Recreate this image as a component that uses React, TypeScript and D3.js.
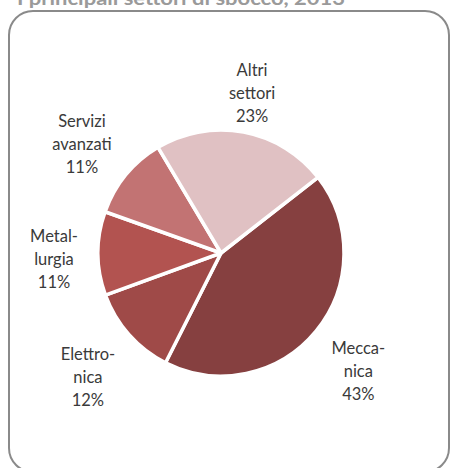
import React, { useEffect, useRef } from "react";
import * as d3 from "d3";

const title = "I principali settori di sbocco, 2013";
const categories = ["Meccanica", "Elettronica", "Metallurgia", "Servizi avanzati", "Altri settori"];
const labelLines = [["Mecca-", "nica"], ["Elettro-", "nica"], ["Metal-", "lurgia"], ["Servizi", "avanzati"], ["Altri", "settori"]];
const values = [43, 12, 11, 11, 23];
const colors = ["#864040", "#9F4A48", "#B25350", "#C27373", "#E0C1C3"];

const W = 450, H = 468;
const cx = 221, cy = 253, R = 123;
const startDeg = 52;
const lineH = 23;

export default function App() {
  const ref = useRef<SVGSVGElement>(null);
  useEffect(() => {
    const svg = d3.select(ref.current);
    svg.selectAll("*").remove();

    svg.append("rect")
      .attr("x", 9).attr("y", 11).attr("width", 440).attr("height", 461)
      .attr("rx", 24).attr("fill", "#fff").attr("stroke", "#8a8a8a").attr("stroke-width", 2);

    svg.append("text")
      .attr("x", 17).attr("y", 4.5)
      .attr("font-family", "Lato, 'Open Sans', sans-serif")
      .attr("font-weight", 700).attr("font-size", 18).attr("fill", "#9a9a9a")
      .attr("textLength", 328).attr("lengthAdjust", "spacingAndGlyphs")
      .text(title);

    const total = d3.sum(values);
    const pie = d3.pie<number>().sort(null).value(d => d)
      .startAngle((startDeg * Math.PI) / 180)
      .endAngle((startDeg * Math.PI) / 180 + 2 * Math.PI);
    const arcs = pie(values);
    const arc = d3.arc<d3.PieArcDatum<number>>().innerRadius(0).outerRadius(R);

    const g = svg.append("g").attr("transform", `translate(${cx},${cy})`);
    g.selectAll("path").data(arcs).join("path")
      .attr("d", arc as any)
      .attr("fill", (_, i) => colors[i])
      .attr("stroke", "#fff").attr("stroke-width", 3.5).attr("stroke-linejoin", "round");

    const lg = svg.append("g").attr("transform", `translate(${cx},${cy})`);
    arcs.forEach((a, i) => {
      const lines = [...labelLines[i], `${Math.round((values[i] / total) * 100)}%`];
      const t = lg.append("text")
        .attr("font-family", "Lato, 'Open Sans', sans-serif")
        .attr("font-size", 16.5).attr("fill", "#3a3a3a")
        .attr("text-anchor", "middle");
      lines.forEach((s, k) => {
        t.append("tspan").attr("x", 0).attr("y", k * lineH).text(s);
      });
      const bb = (t.node() as SVGTextElement).getBBox();
      const w = bb.width, h = lines.length * lineH;
      const mid = (a.startAngle + a.endAngle) / 2;
      const sx = Math.sin(mid), sy = -Math.cos(mid);
      const off = Math.abs(sx) * w / 2 + Math.abs(sy) * 22;
      const d = R + 20 + off;
      const px = sx * d, py = sy * d;
      const top = py - h / 2;
      t.selectAll("tspan").attr("x", px).attr("y", (_, k) => top + k * lineH + 23);
    });
  }, []);
  return <svg ref={ref} width={W} height={H} style={{ position: "absolute", left: 0, top: 0 }} />;
}
